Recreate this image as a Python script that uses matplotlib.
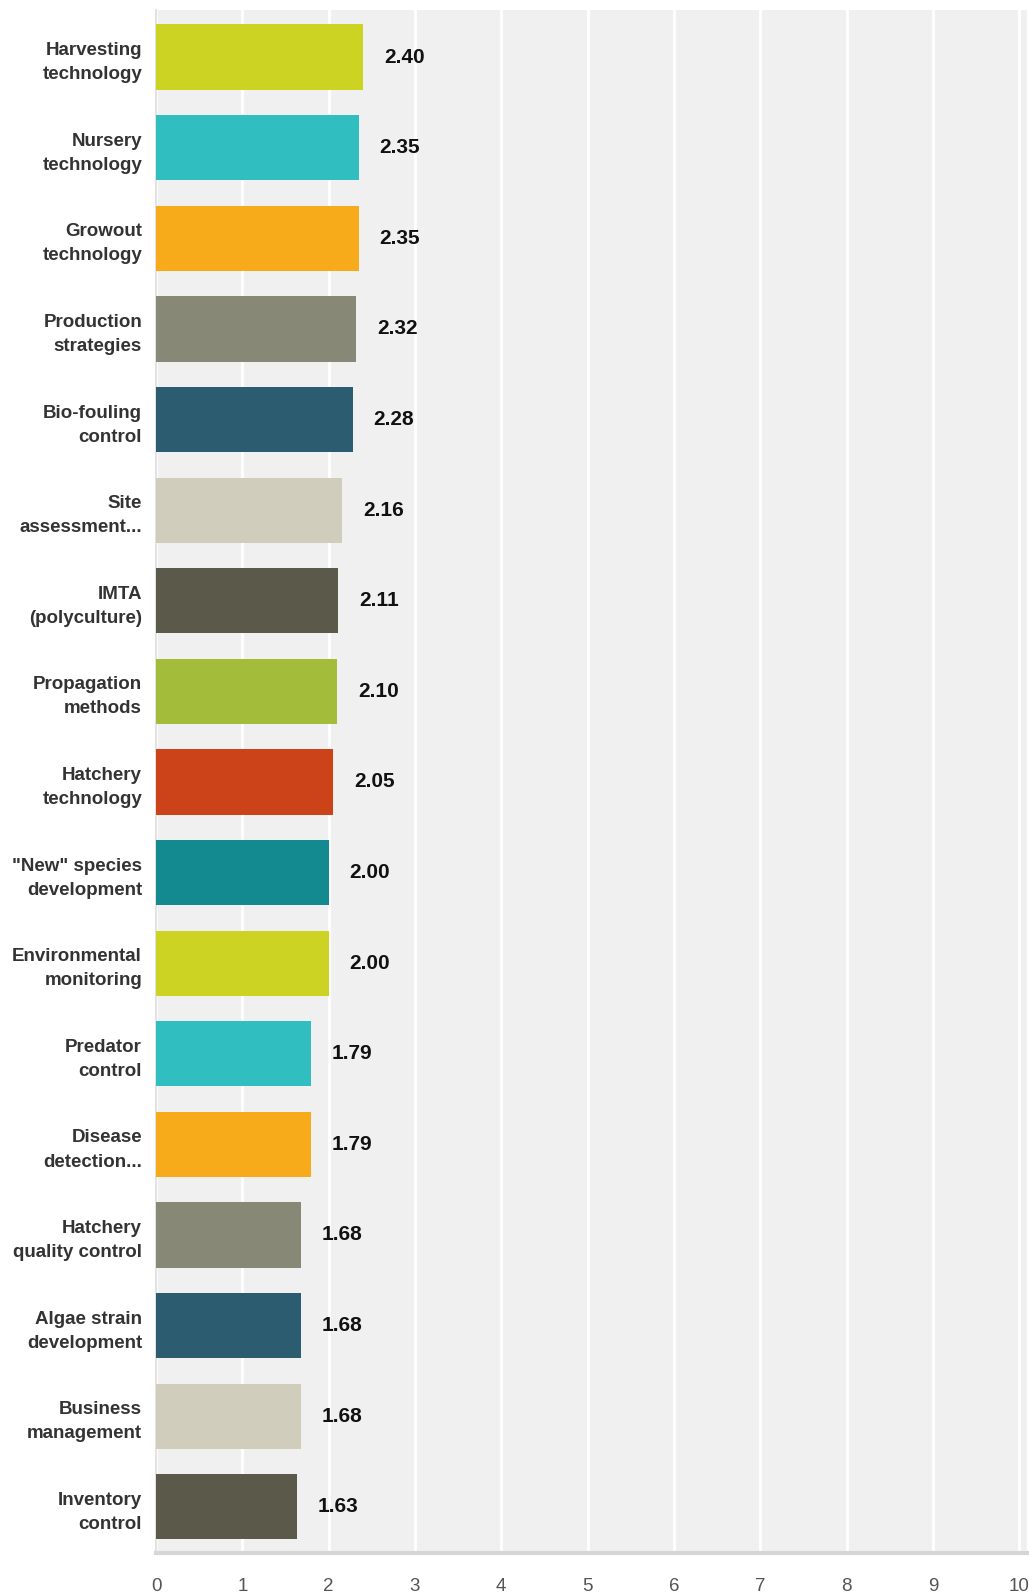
import matplotlib.pyplot as plt
import numpy as np

plt.rcParams['font.family'] = ['Liberation Sans', 'DejaVu Sans']

# 各项平均得分（从上到下）
labels = ['Harvesting\ntechnology', 'Nursery\ntechnology', 'Growout\ntechnology',
          'Production\nstrategies', 'Bio-fouling\ncontrol', 'Site\nassessment...',
          'IMTA\n(polyculture)', 'Propagation\nmethods', 'Hatchery\ntechnology',
          '"New" species\ndevelopment', 'Environmental\nmonitoring', 'Predator\ncontrol',
          'Disease\ndetection...', 'Hatchery\nquality control', 'Algae strain\ndevelopment',
          'Business\nmanagement', 'Inventory\ncontrol']
scores = [2.40, 2.35, 2.35, 2.32, 2.28, 2.16, 2.11, 2.10, 2.05,
          2.00, 2.00, 1.79, 1.79, 1.68, 1.68, 1.68, 1.63]
colors = ['#cdd323', '#30bec1', '#f7ab1b', '#888877', '#2b5c6f', '#d0cdbd',
          '#5b594a', '#a3bd3a', '#cc4319', '#128a8f', '#cdd323', '#30bec1',
          '#f7ab1b', '#888877', '#2b5c6f', '#d0cdbd', '#5b594a']
x_ticks = list(range(0, 11))

fig = plt.figure(figsize=(10.29, 15.95), dpi=100)
ax = fig.add_axes([156 / 1029, 1 - 1553 / 1595, 871 / 1029, 1543 / 1595])
ax.set_facecolor('#f0f0f0')

y = np.arange(len(labels))
ax.barh(y, scores, height=0.72, color=colors, zorder=3)

for yi, v in zip(y, scores):
    ax.annotate('%.2f' % v, (v, yi), xytext=(15, 0), textcoords='offset points',
                ha='left', va='center', fontsize=15, fontweight='bold',
                color='#111111', zorder=4)

ax.set_xlim(0, 10.09)
ax.set_ylim(16.51, -0.52)
ax.set_xticks(x_ticks)
ax.set_xticklabels([str(t) for t in x_ticks], fontsize=13.5, color='#555555')
ax.set_yticks(y)
ax.set_yticklabels(labels, fontsize=13.5, fontweight='bold', color='#333333',
                   linespacing=1.55)
ax.tick_params(axis='x', length=0, pad=18)
ax.tick_params(axis='y', length=0, pad=10)

# 白色竖向网格线
ax.grid(axis='x', color='white', linewidth=2, zorder=1)
ax.set_axisbelow(True)

for s in ['top', 'right']:
    ax.spines[s].set_visible(False)
ax.spines['left'].set_color('#e2e2e2')
ax.spines['left'].set_linewidth(1.5)
ax.spines['bottom'].set_color('#d6d6d6')
ax.spines['bottom'].set_linewidth(3)

plt.savefig('out.png', dpi=100)
